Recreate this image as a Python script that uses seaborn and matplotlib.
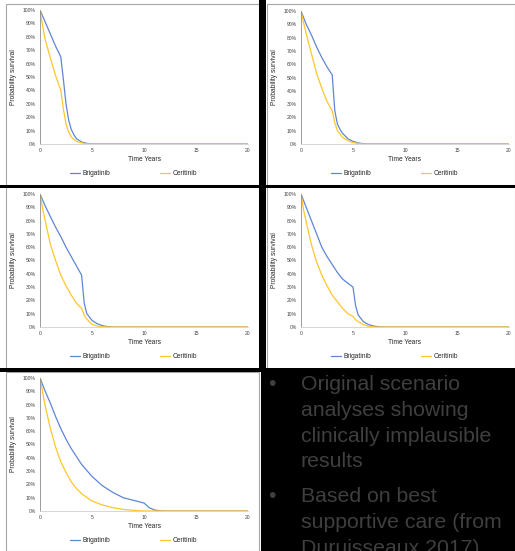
import matplotlib
matplotlib.use("Agg")
import matplotlib.pyplot as plt
from matplotlib.patches import Rectangle
from matplotlib.ticker import PercentFormatter
import seaborn as sns
import pandas as pd

# ---------------- data ----------------
series_names = ["Brigatinib", "Ceritinib"]
x_ticks = [0, 5, 10, 15, 20]
y_ticks = [0, 10, 20, 30, 40, 50, 60, 70, 80, 90, 100]

p1_brig_t = [0, 0.5, 1, 1.5, 2, 2.25, 2.5, 2.75, 3, 3.25, 3.5, 4, 4.5, 5, 20]
p1_brig_v = [100, 91, 82, 73, 65, 48, 30, 18, 11, 7, 4, 1.5, 0.5, 0, 0]
p1_ceri_t = [0, 0.25, 0.5, 1, 1.5, 2, 2.25, 2.5, 2.75, 3, 3.25, 3.5, 4, 4.5, 5, 20]
p1_ceri_v = [100, 88, 78, 64, 51, 40, 26, 15, 9, 5.5, 3.5, 2, 0.8, 0.2, 0, 0]

p2_brig_t = [0, 0.5, 1, 1.5, 2, 2.5, 3, 3.25, 3.5, 3.75, 4, 4.5, 5, 5.5, 6, 6.5, 20]
p2_brig_v = [100, 90, 82, 73, 65, 58, 52, 25, 15, 11, 8, 4, 2, 0.8, 0.2, 0, 0]
p2_ceri_t = [0, 0.25, 0.5, 1, 1.5, 2, 2.5, 3, 3.25, 3.5, 4, 4.5, 5, 5.5, 6, 20]
p2_ceri_v = [100, 91, 83, 68, 53, 42, 32, 25, 16, 10, 5, 2.5, 1, 0.4, 0, 0]

p3_brig_t = [0, 0.5, 1, 1.5, 2, 2.5, 3, 3.5, 4, 4.25, 4.5, 5, 5.5, 6, 6.5, 7, 20]
p3_brig_v = [100, 91, 83, 75, 68, 60, 53, 46, 39, 18, 10, 5, 2.5, 1, 0.3, 0, 0]
p3_ceri_t = [0, 0.25, 0.5, 1, 1.5, 2, 2.5, 3, 3.5, 4, 4.25, 4.5, 5, 5.5, 6, 6.5, 20]
p3_ceri_v = [100, 89, 80, 62, 50, 39, 31, 24, 18, 14, 9, 6, 2, 0.7, 0.2, 0, 0]

p4_brig_t = [0, 0.5, 1, 1.5, 2, 2.5, 3, 3.5, 4, 4.5, 5, 5.25, 5.5, 6, 6.5, 7, 7.5, 8, 20]
p4_brig_v = [100, 90, 80, 70, 60, 53, 47, 41, 36, 33, 30, 16, 9, 4, 1.8, 0.7, 0.2, 0, 0]
p4_ceri_t = [0, 0.25, 0.5, 1, 1.5, 2, 2.5, 3, 3.5, 4, 4.5, 5, 5.25, 5.5, 6, 6.5, 7, 20]
p4_ceri_v = [100, 88, 79, 62, 49, 39, 31, 24, 19, 14, 10, 8, 5.5, 4, 1.8, 0.6, 0, 0]

p5_brig_t = [0, 0.5, 1, 1.5, 2, 2.5, 3, 3.5, 4, 5, 6, 7, 8, 9, 10, 10.5, 11, 11.5, 12, 20]
p5_brig_v = [100, 90, 81, 71, 62, 54, 47, 41, 35, 26, 19, 14, 10, 8, 6, 2.5, 0.8, 0.2, 0, 0]
p5_ceri_t = [0, 0.5, 1, 1.5, 2, 2.5, 3, 3.5, 4, 5, 6, 7, 8, 9, 10, 20]
p5_ceri_v = [100, 79, 62, 48, 37, 29, 22, 17, 13, 7.5, 4.5, 2.5, 1.2, 0.5, 0, 0]

bullet_1 = ["Original scenario", "analyses showing", "clinically implausible", "results"]
bullet_2 = ["Based on best", "supportive care (from", "Duruisseaux 2017)"]

# ---------------- styling ----------------
sns.set_theme(style="white")
plt.rcParams["font.family"] = ["Liberation Sans", "DejaVu Sans"]

W, H = 515, 551
fig = plt.figure(figsize=(W / 100, H / 100), dpi=100)
fig.patch.set_facecolor("white")

palette = {"Brigatinib": "#5F86D4", "Ceritinib": "#FFC72C"}

panels = [
    (40, 10, 248, 144, p1_brig_t, p1_brig_v, p1_ceri_t, p1_ceri_v),
    (301, 11, 509, 144, p2_brig_t, p2_brig_v, p2_ceri_t, p2_ceri_v),
    (40, 194, 248, 327, p3_brig_t, p3_brig_v, p3_ceri_t, p3_ceri_v),
    (301, 194, 509, 327, p4_brig_t, p4_brig_v, p4_ceri_t, p4_ceri_v),
    (40, 378, 248, 511, p5_brig_t, p5_brig_v, p5_ceri_t, p5_ceri_v),
]


def fx(px):
    return px / W


def fy(py):
    return 1 - py / H


# panel frames (gray) behind
frames = [(6, 4, 259, 185), (267, 4, 515, 185), (6, 187, 259, 369), (267, 187, 515, 369), (6, 372, 259, 551)]
for (x0, y0, x1, y1) in frames:
    fig.add_artist(Rectangle((fx(x0), fy(y1)), fx(x1) - fx(x0), fy(y0) - fy(y1),
                             transform=fig.transFigure, facecolor="white",
                             edgecolor="#a6a6a6", lw=0.8, zorder=0))

for (x0, y0, x1, y1, bt, bv, ct, cv) in panels:
    ax = fig.add_axes([fx(x0), fy(y1), fx(x1) - fx(x0), fy(y0) - fy(y1)])
    ax.set_facecolor("none")
    df = pd.concat([
        pd.DataFrame({"t": bt, "v": [v / 100 for v in bv], "drug": "Brigatinib"}),
        pd.DataFrame({"t": ct, "v": [v / 100 for v in cv], "drug": "Ceritinib"}),
    ])
    sns.lineplot(data=df, x="t", y="v", hue="drug", hue_order=series_names,
                 palette=palette, lw=0.9, ax=ax, legend=False)
    ax.set_xlim(0, 20)
    ax.set_ylim(0, 1)
    ax.set_xticks(x_ticks)
    ax.set_yticks([y / 100 for y in y_ticks])
    ax.yaxis.set_major_formatter(PercentFormatter(1.0, decimals=0))
    ax.tick_params(axis="both", labelsize=3.6, colors="#595959", length=1.5, width=0.4, pad=1.5)
    ax.tick_params(axis="both", labelcolor="#404040")
    for s in ["top", "right"]:
        ax.spines[s].set_visible(False)
    ax.spines["left"].set_color("#8c8c8c")
    ax.spines["bottom"].set_color("#d0d0d0")
    ax.spines["left"].set_linewidth(0.6)
    ax.spines["bottom"].set_linewidth(0.6)
    ax.set_xlabel("Time Years", fontsize=4.8, color="#262626", labelpad=2)
    ax.set_ylabel("Probability survival", fontsize=4.8, color="#262626", labelpad=4)
    handles = [plt.Line2D([], [], color=palette[n], lw=0.9) for n in series_names]
    ax.legend(handles, series_names, loc="upper center", bbox_to_anchor=(0.45, -0.15),
              ncol=2, frameon=False, fontsize=4.8, handlelength=1.5, handletextpad=0.3,
              columnspacing=7.5, labelcolor="#262626")

# black separators / text block
blacks = [(259, 0, 266, 372), (0, 185, 515, 187.5), (0, 368, 515, 372), (261, 370, 515, 551)]
for (x0, y0, x1, y1) in blacks:
    fig.add_artist(Rectangle((fx(x0), fy(y1)), fx(x1) - fx(x0), fy(y0) - fy(y1),
                             transform=fig.transFigure, facecolor="black",
                             edgecolor="none", zorder=5))

txt_color = "#3f3f3f"
fs = 15.3
baselines_1 = [390, 416, 441.5, 467]
baselines_2 = [502, 528, 554]
for lines, bases in [(bullet_1, baselines_1), (bullet_2, baselines_2)]:
    fig.text(fx(268), fy(bases[0]), "\u2022", fontsize=fs, color=txt_color, va="baseline", zorder=6)
    for line, b in zip(lines, bases):
        fig.text(fx(301), fy(b), line, fontsize=fs, color=txt_color, va="baseline", zorder=6)

fig.savefig("out.png", dpi=100, facecolor="white")
